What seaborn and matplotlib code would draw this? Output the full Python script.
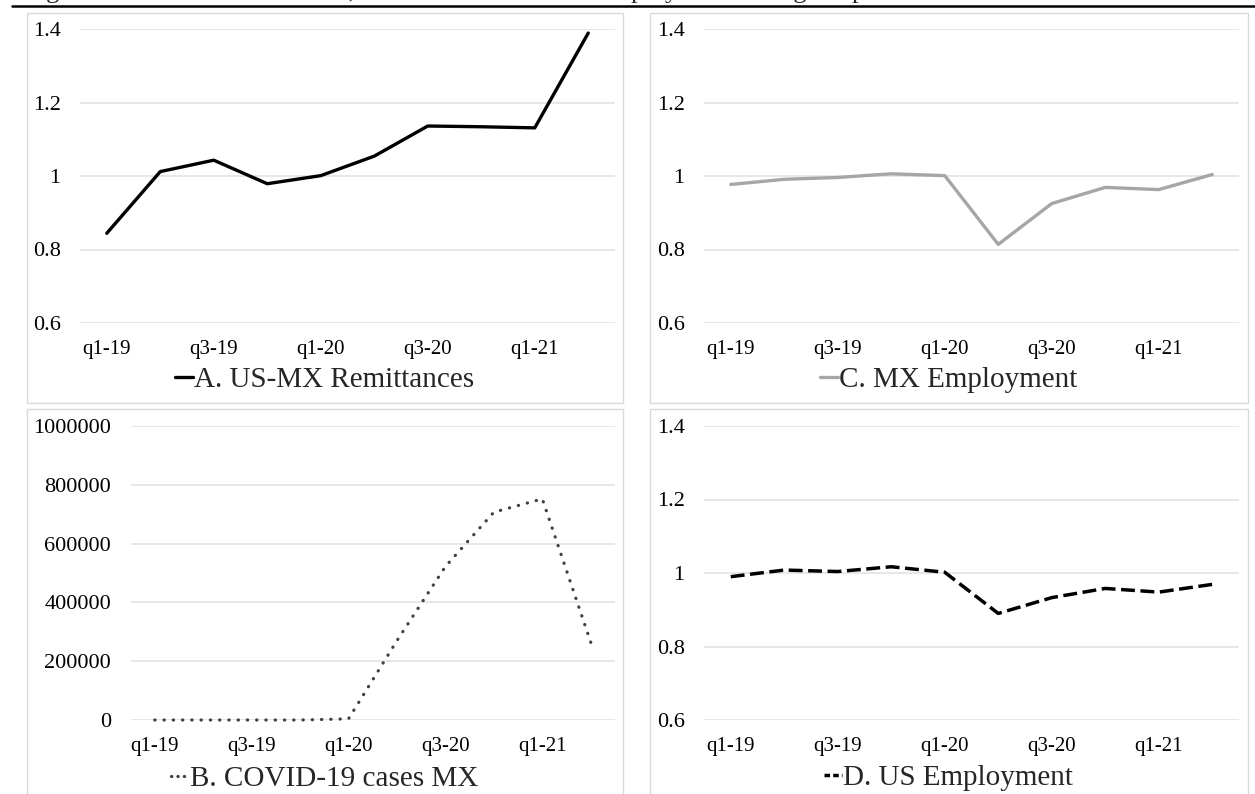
import numpy as np
import seaborn as sns
import matplotlib.pyplot as plt
from matplotlib.patches import Rectangle
from matplotlib.lines import Line2D

quarters = ['q1-19', 'q2-19', 'q3-19', 'q4-19', 'q1-20',
            'q2-20', 'q3-20', 'q4-20', 'q1-21', 'q2-21']
remittances = [0.844, 1.012, 1.043, 0.979, 1.001, 1.054, 1.136, 1.134, 1.131, 1.389]
mx_employment = [0.977, 0.991, 0.996, 1.006, 1.001, 0.814, 0.925, 0.969, 0.963, 1.004]
covid_cases = [0, 0, 0, 0, 4000, 270000, 522000, 707000, 752000, 264000]
us_employment = [0.990, 1.008, 1.004, 1.017, 1.002, 0.890, 0.933, 0.958, 0.948, 0.969]

title = 'Figure 2. US-MX Remittances, COVID-19 cases and Employment during the pandemic'

W, H = 1255, 794

sns.set_style('white')
plt.rcParams['font.family'] = ['Liberation Serif', 'DejaVu Serif']

fig = plt.figure(figsize=(W / 100, H / 100), dpi=100)


def px_rect(x0, y0, x1, y1):
    return [x0 / W, 1 - y1 / H, (x1 - x0) / W, (y1 - y0) / H]


# title sits above the page edge, only its descenders show
fig.text(24 / W, 1 + 2.0 / H, title, fontsize=19, va='baseline', ha='left')
fig.add_artist(Line2D([12 / W, 1], [1 - 5.7 / H] * 2, color='black', lw=1.8))

panels = [
    # box, axes, values, style, label, legend y, legend handle dashes
    ((26.5, 12.5, 623, 403), (80, 29, 615, 323), remittances,
     dict(color='black', lw=2.4), 'A. US-MX Remittances', 380, None),
    ((650, 12.5, 1247.5, 403), (704, 29, 1239, 323), mx_employment,
     dict(color='#a6a6a6', lw=2.4), 'C. MX Employment', 380, None),
    ((26.5, 409, 623, 800), (130.5, 426, 615, 720), covid_cases,
     dict(color='#404040', lw=2.3, dashes=(0.1, 2.8), dash_capstyle='round'),
     'B. COVID-19 cases MX', 779, (0.1, 1.9)),
    ((650, 409, 1247.5, 800), (704, 426, 1239, 720), us_employment,
     dict(color='black', lw=2.5, dashes=(4, 1.6)), 'D. US Employment', 778, (1.6, 0.9)),
]

x = np.arange(len(quarters))

for box, rect, vals, style, label, ly, hdash in panels:
    bx0, by0, bx1, by1 = box
    fig.patches.append(Rectangle((bx0 / W, 1 - by1 / H), (bx1 - bx0) / W, (by1 - by0) / H,
                                 transform=fig.transFigure, fill=False,
                                 edgecolor='#d9d9d9', lw=1.0))
    ax = fig.add_axes(px_rect(*rect))
    sns.lineplot(x=x, y=vals, ax=ax, **style)
    ax.lines[0].set_clip_on(False)
    ax.set_xlim(-0.5, len(quarters) - 0.5)
    ax.set_xticks(x[::2])
    ax.set_xticklabels(quarters[::2])
    if vals is covid_cases:
        ax.set_ylim(0, 1000000)
        yt = np.arange(0, 1000001, 200000)
        ax.set_yticks(yt)
        ax.set_yticklabels([str(v) for v in yt])
    else:
        ax.set_ylim(0.6, 1.4)
        ax.set_yticks([0.6, 0.8, 1.0, 1.2, 1.4])
        ax.set_yticklabels(['0.6', '0.8', '1', '1.2', '1.4'])
    ax.yaxis.grid(True, color='#e3e3e3', lw=1.2)
    ax.xaxis.grid(False)
    for s in ax.spines.values():
        s.set_visible(False)
    ax.tick_params(axis='both', length=0, colors='black')
    ax.tick_params(axis='y', pad=14, labelsize=16)
    ax.tick_params(axis='x', pad=12, labelsize=15)
    ax.set_xlabel('')
    ax.set_ylabel('')

    hstyle = {k: v for k, v in style.items() if k != 'dashes'}
    handle = Line2D([], [], **hstyle)
    if hdash is not None:
        handle.set_dashes(hdash)
    cx = (bx0 + bx1) / 2 / W
    ax.legend([handle], [label], loc='center', bbox_to_anchor=(cx, 1 - ly / H),
              bbox_transform=fig.transFigure, frameon=False, fontsize=21,
              handlelength=0.6, handletextpad=0.05, borderpad=0, borderaxespad=0)

fig.savefig('out.png', dpi=100)
